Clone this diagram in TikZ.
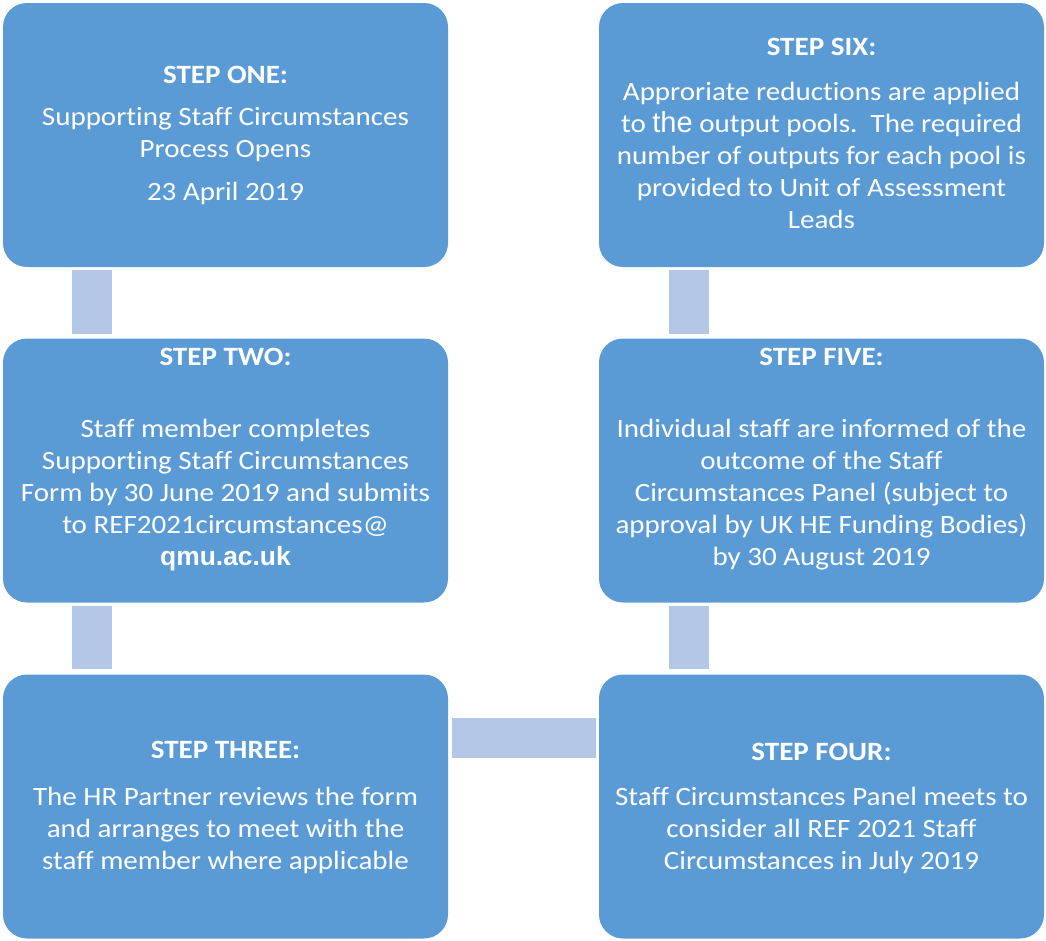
\documentclass[tikz,border=0pt]{standalone}
\usepackage{fontspec}
\setmainfont{Carlito}[FakeStretch=1.1, Ligatures=NoCommon]
\newfontfamily\arialfont{Liberation Sans}
\definecolor{boxblue}{HTML}{5B9BD5}
\definecolor{connblue}{HTML}{B4C7E7}
\begin{document}
\begin{tikzpicture}[x=1pt,y=-1pt,
  stepbox/.style={fill=boxblue, draw=none, rounded corners=24pt, minimum width=445pt, minimum height=264pt, inner sep=0pt},
  steptext/.style={text=white, align=center, anchor=north, inner sep=0pt, font=\fontsize{26.4}{32}\selectfont},
  conn/.style={draw=connblue, line width=40pt, line cap=butt}]
\useasboundingbox (0,0) rectangle (1046,940);
\node[stepbox] (s1) at (225.5,135) {};
\node[stepbox] (s2) at (225.5,470.5) {};
\node[stepbox] (s3) at (225.5,806.5) {};
\node[stepbox] (s6) at (821.5,135) {};
\node[stepbox] (s5) at (821.5,470.5) {};
\node[stepbox] (s4) at (821.5,806.5) {};
% connectors
\draw[conn, shorten <=3pt, shorten >=4pt] ([xshift=89pt]s1.south west) -- ([xshift=89pt]s2.north west);
\draw[conn, shorten <=3pt, shorten >=5pt] ([xshift=89pt]s2.south west) -- ([xshift=89pt]s3.north west);
\draw[conn, shorten <=3pt, shorten >=4pt] ([xshift=90pt]s6.south west) -- ([xshift=90pt]s5.north west);
\draw[conn, shorten <=3pt, shorten >=5pt] ([xshift=90pt]s5.south west) -- ([xshift=90pt]s4.north west);
\draw[conn, shorten <=4pt, shorten >=3pt] ([yshift=-64pt]s3.north east) -- ([yshift=-64pt]s4.north west);
% texts
\node[steptext] (t1) at (225.5,66) {\textbf{STEP ONE:}\\[10pt]Supporting Staff Circumstances\\Process Opens\\[11pt]23 April 2019};
\node[steptext] (t2) at (225.5,348) {\textbf{STEP TWO:}\\[40pt]Staff member completes\\Supporting Staff Circumstances\\Form by 30 June 2019 and submits\\to REF2021circumstances@\\{\arialfont\bfseries qmu.ac.uk}};
\node[steptext] (t3) at (225.5,741) {\textbf{STEP THREE:}\\[15pt]The HR Partner reviews the form\\and arranges to meet with the\\staff member where applicable};
\node[steptext] (t4) at (821.5,743) {\textbf{STEP FOUR:}\\[13pt]Staff Circumstances Panel meets to\\consider all REF 2021 Staff\\Circumstances in July 2019};
\node[steptext] (t5) at (821.5,348) {\textbf{STEP FIVE:}\\[40pt]Individual staff are informed of the\\outcome of the Staff\\Circumstances Panel (subject to\\approval by UK HE Funding Bodies)\\by 30 August 2019};
\node[steptext] (t6) at (821.5,38) {\textbf{STEP SIX:}\\[13pt]Approriate reductions are applied\\to {\arialfont\fontsize{29}{32}\selectfont the} output pools.\ \ The required\\number of outputs for each pool is\\provided to Unit of Assessment\\Leads};
\end{tikzpicture}
\end{document}
